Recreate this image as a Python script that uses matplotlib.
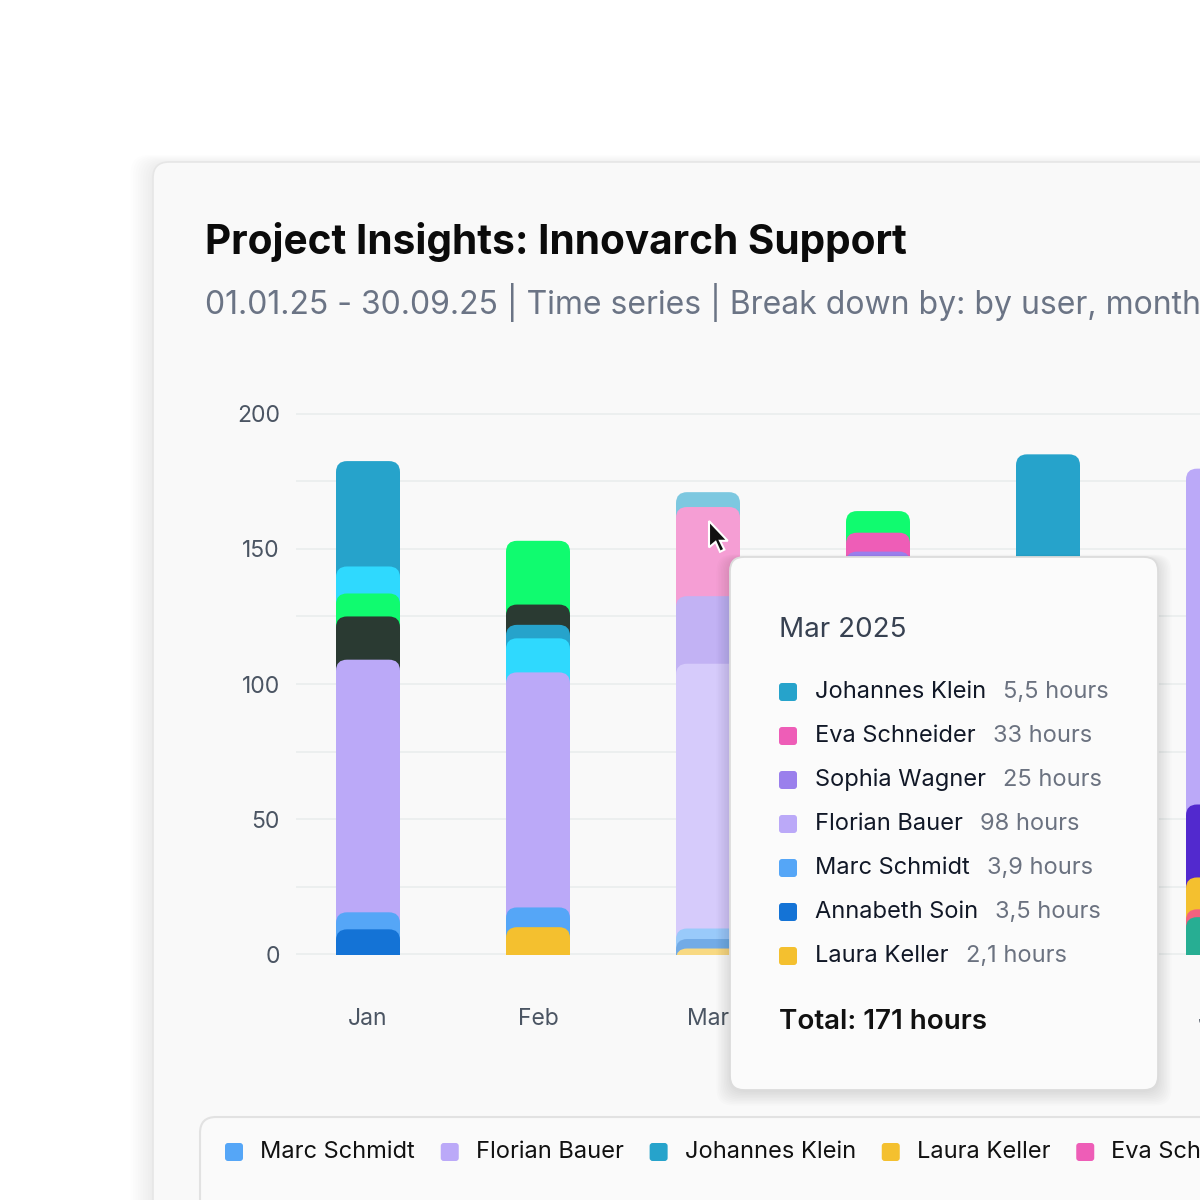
import matplotlib.pyplot as plt
from matplotlib.patches import FancyBboxPatch, Polygon
import numpy as np

plt.rcParams['font.family'] = ['Inter', 'DejaVu Sans']

months = ["Jan", "Feb", "Mar", "Apr", "May", "Jun"]

# stack order for every month, bottom -> top
jan_users = ["Annabeth Soin", "Marc Schmidt", "Florian Bauer", "Lukas Weber", "Jonas Wolf", "Felix Hoffmann", "Johannes Klein"]
jan_hours = [9.2, 6.3, 93.5, 16, 8.5, 10, 39]
feb_users = ["Laura Keller", "Marc Schmidt", "Florian Bauer", "Felix Hoffmann", "Johannes Klein", "Lukas Weber", "Jonas Wolf"]
feb_hours = [10, 7.3, 87, 12.6, 5, 7.5, 23.6]
mar_users = ["Laura Keller", "Annabeth Soin", "Marc Schmidt", "Florian Bauer", "Sophia Wagner", "Eva Schneider", "Johannes Klein"]
mar_hours = [2.1, 3.5, 3.9, 98, 25, 33, 5.5]
apr_users = ["Laura Keller", "Annabeth Soin", "Marc Schmidt", "Florian Bauer", "Sophia Wagner", "Eva Schneider", "Jonas Wolf"]
apr_hours = [4, 5, 6, 98, 36, 7, 8]
may_users = ["Laura Keller", "Marc Schmidt", "Florian Bauer", "Sophia Wagner", "Eva Schneider", "Johannes Klein"]
may_hours = [5, 6, 100, 20, 14, 40]
jun_users = ["Lea Braun", "Mia Becker", "Laura Keller", "Paul Richter", "Florian Bauer"]
jun_hours = [13.7, 2.9, 11.8, 27, 124.3]

legend_users = ["Marc Schmidt", "Florian Bauer", "Johannes Klein", "Laura Keller", "Eva Schneider",
                "Sophia Wagner", "Annabeth Soin", "Lukas Weber", "Jonas Wolf"]

colors = {
    "Johannes Klein": "#26A3CB",
    "Felix Hoffmann": "#2FD9FE",
    "Jonas Wolf": "#10FB6F",
    "Lukas Weber": "#2A3A32",
    "Florian Bauer": "#BBA9F8",
    "Marc Schmidt": "#55A6F7",
    "Annabeth Soin": "#1473D6",
    "Laura Keller": "#F4C02F",
    "Eva Schneider": "#EE5DB7",
    "Sophia Wagner": "#9A7FEC",
    "Paul Richter": "#5229CE",
    "Mia Becker": "#F2627F",
    "Lea Braun": "#27AE93",
}

stack_users = [jan_users, feb_users, mar_users, apr_users, may_users, jun_users]
stack_hours = [jan_hours, feb_hours, mar_hours, apr_hours, may_hours, jun_hours]
hover = "Mar"


def fade(c, k=0.6):
    rgb = np.array([int(c[i:i + 2], 16) for i in (1, 3, 5)]) / 255
    return tuple(rgb * k + (1 - k))


fig = plt.figure(figsize=(12, 12), dpi=100, facecolor="white")

# background layer in pixel coords
bg = fig.add_axes([0, 0, 1, 1], zorder=0)
bg.set_xlim(0, 1200)
bg.set_ylim(1200, 0)
bg.axis("off")
for i in range(10):
    bg.add_patch(FancyBboxPatch((153 - i * 2.5, 164 - i), 1300, 1300,
                                boxstyle="round,pad=0,rounding_size=18",
                                fc="black", ec="none", alpha=0.008))
bg.add_patch(FancyBboxPatch((153, 162), 1300, 1300, boxstyle="round,pad=0,rounding_size=16",
                            fc="#F9F9F9", ec="#E6E6E6", lw=1.2))
bg.text(205, 254, "Project Insights: Innovarch Support", fontsize=29.2, fontweight="bold",
        color="#0B0B0B", va="baseline")
bg.text(205, 314, "01.01.25 - 30.09.25 | Time series | Break down by: by user, months",
        fontsize=23, color="#6B7485", va="baseline")
bg.add_patch(FancyBboxPatch((200, 1117), 1200, 300, boxstyle="round,pad=0,rounding_size=16",
                            fc="#FAFAFA", ec="#E2E2E2", lw=1.5))

# chart
px_x = 170.0
px_y = 542 / 200
ax = fig.add_axes([296 / 1200, 245 / 1200, 1104 / 1200, 542 / 1200], zorder=2)
ax.set_xlim(-72 / px_x, (1104 - 72) / px_x)
ax.set_ylim(-0.3, 200.3)
ax.patch.set_alpha(0)
for s in ax.spines.values():
    s.set_visible(False)
ax.set_yticks(range(0, 201, 50))
ax.set_yticks(range(0, 201, 25), minor=True)
ax.grid(axis="y", which="both", color="#E9ECEC", lw=1.1, zorder=0)
ax.set_xticks(range(len(months)), months)
ax.tick_params(which="both", length=0, labelsize=16.5, colors="#4B5563")
ax.tick_params(axis="y", pad=11.5)
ax.tick_params(axis="x", pad=38)

bw = 64 / px_x
r = 11 / px_x
for i, (users, hours) in enumerate(zip(stack_users, stack_hours)):
    tops = np.cumsum(hours)
    for u, top in reversed(list(zip(users, tops))):
        c = colors[u]
        if months[i] == hover:
            c = fade(c)
        ax.add_patch(FancyBboxPatch((i - bw / 2, -8), bw, top + 8,
                                    boxstyle=f"round,pad=0,rounding_size={r}",
                                    mutation_aspect=px_x / px_y, fc=c, ec="none", zorder=3))

# overlay: tooltip, cursor, legend
top = fig.add_axes([0, 0, 1, 1], zorder=5)
top.set_xlim(0, 1200)
top.set_ylim(1200, 0)
top.axis("off")
top.patch.set_alpha(0)

fig.canvas.draw()
renderer = fig.canvas.get_renderer()

for i in range(10):
    top.add_patch(FancyBboxPatch((730 - i * 1.5, 557 + 2 - i * 0.5), 428 + i * 3, 533 + i * 2,
                                 boxstyle="round,pad=0,rounding_size=16",
                                 fc="black", ec="none", alpha=0.01))
top.add_patch(FancyBboxPatch((730, 557), 428, 533, boxstyle="round,pad=0,rounding_size=14",
                             fc="#FBFBFB", ec="#DCDCDC", lw=1.3))
mi = months.index(hover)
top.text(779, 637, f"{hover} 2025", fontsize=20, color="#374151", va="baseline")
rows = list(zip(stack_users[mi], stack_hours[mi]))[::-1]
for k, (u, h) in enumerate(rows):
    yc = 692 + k * 44
    top.add_patch(FancyBboxPatch((779, yc - 9), 18, 18, boxstyle="round,pad=0,rounding_size=3",
                                 fc=colors[u], ec="none"))
    t = top.text(815, yc, u, fontsize=17, color="#111827", va="center")
    ext = t.get_window_extent(renderer)
    val = f"{h:g}".replace(".", ",") + " hours"
    top.text(ext.x1 + 17, yc, val, fontsize=17, color="#6B7280", va="center")
total = sum(stack_hours[mi])
top.text(779, 1022, f"Total: {total:g} hours", fontsize=20, fontweight="semibold",
         color="#111111", va="center")

# mouse cursor
cur = np.array([(0, 0), (0, 24), (6, 19), (10, 28), (14, 26), (10, 18), (17, 18)]) * 1.1
top.add_patch(Polygon(cur + [709, 521], closed=True, fc="#111111", ec="white", lw=1.5, zorder=6))

# legend
x = 225
for u in legend_users:
    if x > 1200:
        break
    top.add_patch(FancyBboxPatch((x, 1143), 18, 18, boxstyle="round,pad=0,rounding_size=3",
                                 fc=colors[u], ec="none"))
    t = top.text(x + 35, 1152, u, fontsize=17, color="#111111", va="center")
    ext = t.get_window_extent(renderer)
    x = ext.x1 + 26

fig.savefig("out.png", dpi=100, facecolor="white")
